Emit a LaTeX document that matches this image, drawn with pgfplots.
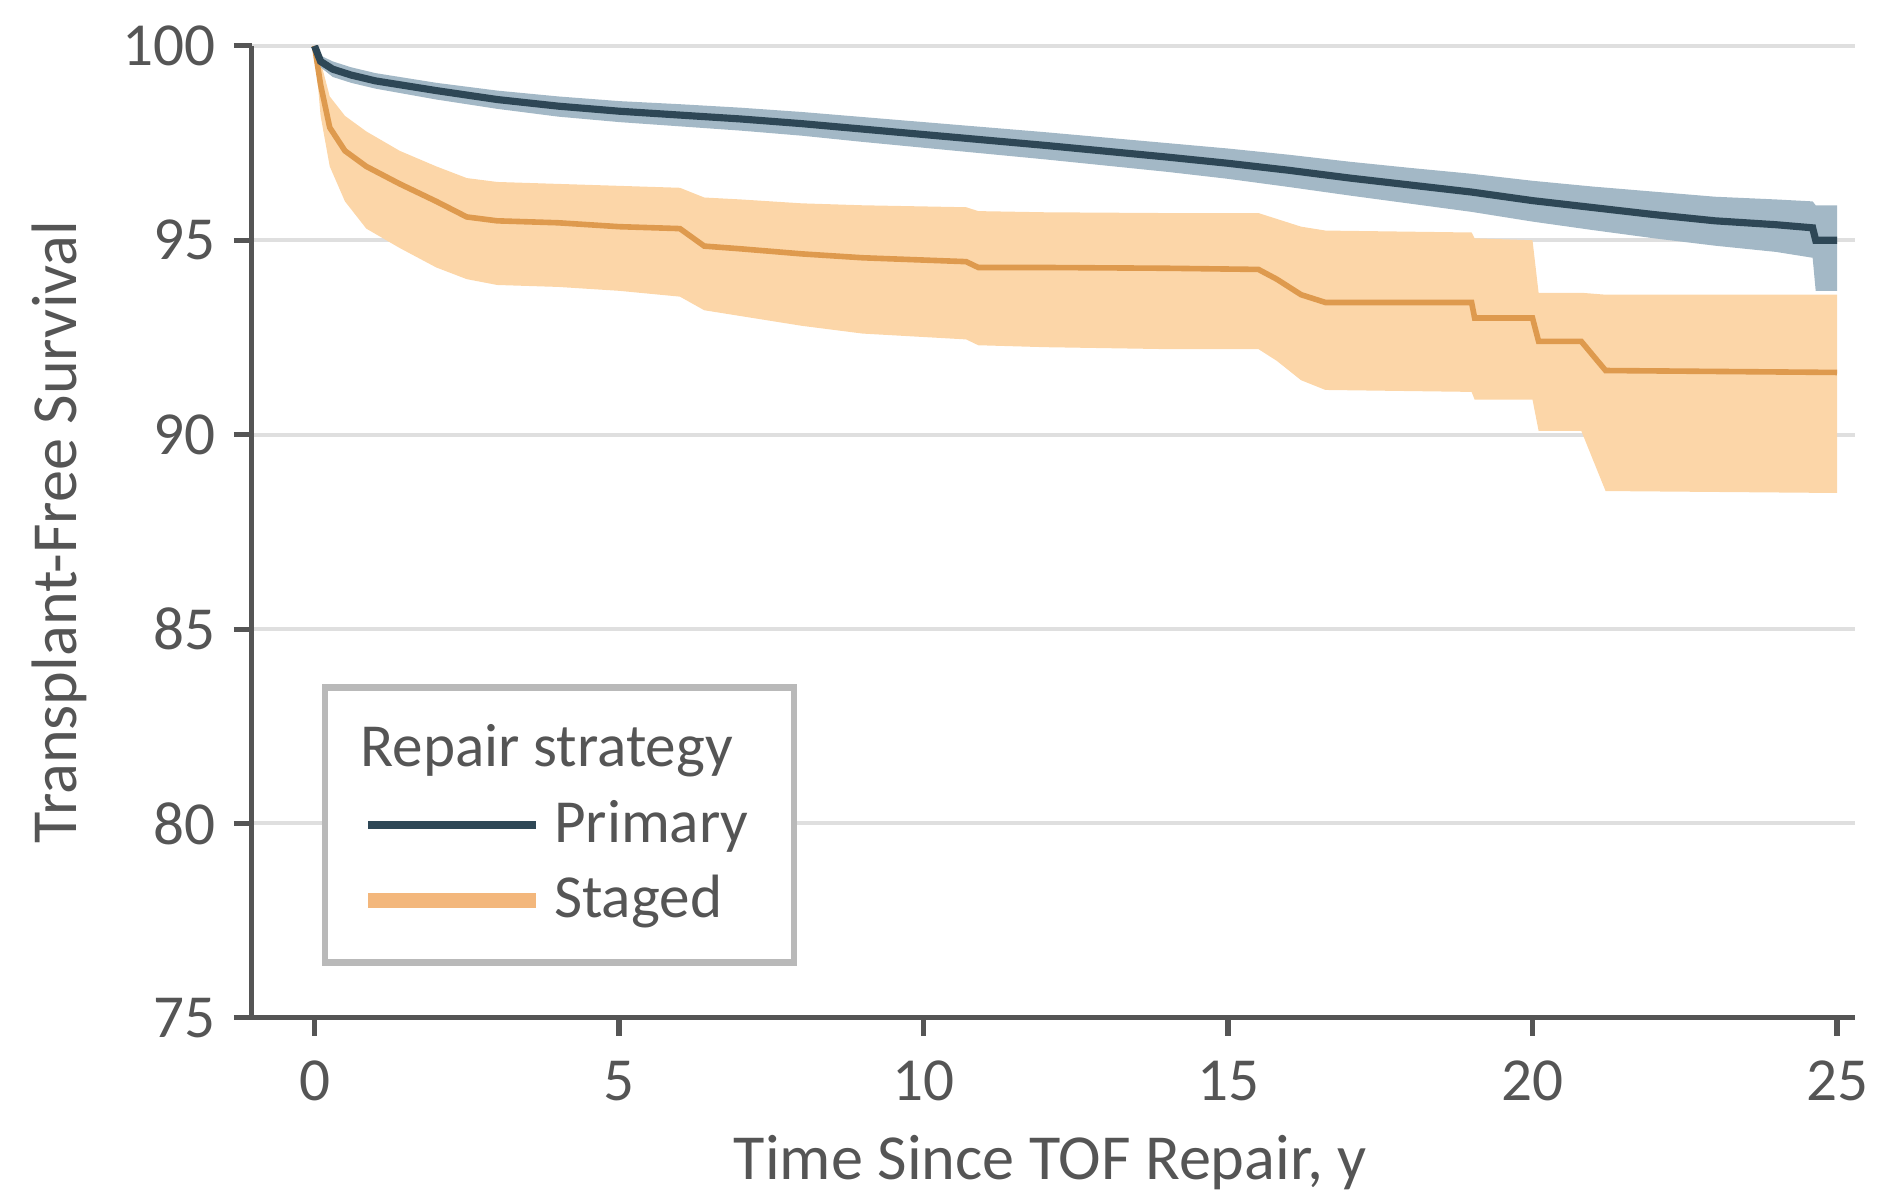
\documentclass[border=0pt]{standalone}
\usepackage{fontspec}
\setmainfont{Carlito}
\usepackage{pgfplots}
\usepackage{pgfplotstable}
\pgfplotsset{compat=1.18}
\usepgfplotslibrary{fillbetween}
\definecolor{prim}{HTML}{2E4756}
\definecolor{primband}{HTML}{A3B8C6}
\definecolor{stag}{HTML}{DE9A4E}
\definecolor{stagband}{HTML}{FCD6A8}
\definecolor{stagleg}{HTML}{F3B77C}
\definecolor{txt}{HTML}{555555}

\pgfplotstableread{
x y lo hi
0 100 100 100
0.1 99.6 99.45 99.75
0.3 99.4 99.2 99.6
0.6 99.25 99.05 99.45
1 99.1 98.9 99.3
2 98.85 98.62 99.05
3 98.62 98.38 98.85
4 98.45 98.18 98.7
5 98.32 98.04 98.58
6 98.22 97.93 98.5
7 98.12 97.82 98.41
8 98.0 97.69 98.3
9 97.86 97.53 98.17
10 97.72 97.38 98.04
11 97.58 97.23 97.91
12 97.44 97.08 97.78
13 97.29 96.92 97.64
14 97.14 96.76 97.5
15 96.98 96.58 97.36
16 96.8 96.37 97.2
17 96.6 96.15 97.02
18 96.42 95.94 96.86
19 96.24 95.73 96.71
20 96.02 95.48 96.53
21 95.84 95.26 96.38
22 95.66 95.05 96.25
23 95.5 94.86 96.12
24 95.4 94.7 96.05
24.6 95.32 94.55 96.0
24.65 95.0 93.7 95.9
25 95.0 93.7 95.9
}\primary

\pgfplotstableread{
x y lo hi
0 100 100 100
0.1 99.0 98.2 99.6
0.25 97.9 96.9 98.7
0.5 97.3 96.0 98.2
0.85 96.9 95.3 97.8
1.4 96.45 94.8 97.3
2.0 96.0 94.3 96.9
2.5 95.6 94.0 96.6
3 95.5 93.85 96.5
4 95.45 93.8 96.45
5 95.35 93.7 96.4
6.0 95.3 93.55 96.35
6.4 94.85 93.2 96.1
7 94.78 93.05 96.05
8 94.65 92.8 95.95
9 94.55 92.6 95.9
10.7 94.45 92.45 95.85
10.9 94.3 92.3 95.75
12 94.3 92.25 95.72
14 94.28 92.2 95.7
15.5 94.25 92.2 95.7
15.8 94.0 91.9 95.55
16.2 93.6 91.4 95.35
16.6 93.4 91.15 95.25
19.0 93.4 91.1 95.2
19.05 93.0 90.9 95.05
20.0 93.0 90.9 95.0
20.1 92.4 90.1 93.65
20.8 92.4 90.1 93.65
21.2 91.65 88.55 93.6
25 91.6 88.5 93.6
}\staged

\begin{document}
\begin{tikzpicture}
\begin{axis}[
  scale only axis, width=314.6pt, height=190.7pt,
  xmin=-1.03, xmax=25.3, ymin=75, ymax=100,
  axis lines=left, axis line style={-, draw=txt, line width=1pt},
  xtick={0,5,...,25}, ytick={75,80,...,100},
  tick align=outside, major tick length=3.5pt,
  tick style={draw=txt, line width=1pt},
  ymajorgrids, grid style={draw=gray!25, line width=0.8pt},
  tick label style={font=\fontsize{12}{14}\selectfont, text=txt},
  xticklabel style={yshift=-1.4pt},
  /pgf/number format/assume math mode=true,
  xlabel={Time Since TOF Repair, y}, ylabel={Transplant-Free Survival},
  label style={font=\fontsize{12.6}{14}\selectfont, text=txt, inner sep=0pt},
  xlabel style={at={(axis description cs:0.498,-0.149)}, anchor=center},
  ylabel style={at={(axis description cs:-0.12,0.5)}, anchor=center},
  legend style={at={(axis description cs:0.0436,0.343)}, anchor=north west,
    draw=gray!55, line width=1.2pt, fill=white, inner xsep=7pt, inner ysep=5.3pt,
    font=\fontsize{12}{14}\selectfont, text=txt, row sep=1pt},
  legend cell align=left,
]
\addplot[name path=sHi, draw=none, forget plot] table[x=x,y=hi]{\staged};
\addplot[name path=sLo, draw=none, forget plot] table[x=x,y=lo]{\staged};
\addplot[fill=stagband, draw=none, forget plot] fill between[of=sHi and sLo];
\addplot[name path=pHi, draw=none, forget plot] table[x=x,y=hi]{\primary};
\addplot[name path=pLo, draw=none, forget plot] table[x=x,y=lo]{\primary};
\addplot[fill=primband, draw=none, forget plot] fill between[of=pHi and pLo];
\addplot[stag, line width=1.1pt, forget plot] table[x=x,y=y]{\staged};
\addplot[prim, line width=1.4pt, forget plot] table[x=x,y=y]{\primary};

\addlegendimage{empty legend}
\addlegendentry{\hspace*{-38pt}Repair strategy}
\addlegendimage{legend image code/.code={\draw[prim, line width=1.6pt] (0pt,0pt) -- (33pt,0pt);}}
\addlegendentry{Primary}
\addlegendimage{legend image code/.code={\draw[stagleg, line width=3pt] (0pt,0pt) -- (33pt,0pt);}}
\addlegendentry{Staged}
\end{axis}
\path (-49.4pt,-35.9pt) rectangle (320.1pt,199.7pt);
\end{tikzpicture}
\end{document}
